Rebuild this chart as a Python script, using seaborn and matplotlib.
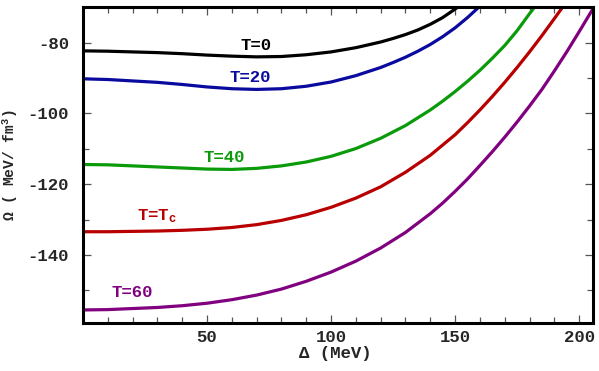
import matplotlib
matplotlib.use("Agg")
import matplotlib.pyplot as plt
import numpy as np
import pandas as pd
import seaborn as sns
from matplotlib.ticker import MultipleLocator


# curves: gap parameter (MeV) vs grand potential (MeV/fm^3)
delta_t0 = [0, 10, 20, 30, 40, 50, 60, 70, 80, 90, 100, 110, 120, 125, 130, 135, 140, 145, 150, 151]
omega_t0 = [-82.3, -82.4, -82.6, -82.8, -83.1, -83.5, -83.8, -84.0, -83.9, -83.4, -82.6, -81.4,
            -79.8, -78.8, -77.7, -76.4, -74.8, -72.9, -70.5, -70.0]

delta_t20 = [0, 10, 20, 30, 40, 50, 60, 70, 80, 90, 100, 110, 120, 125, 130, 135, 140, 145, 150, 155, 159.5]
omega_t20 = [-90.2, -90.4, -90.8, -91.2, -91.8, -92.5, -93.0, -93.2, -93.0, -92.3, -91.1, -89.3,
             -87.0, -85.6, -84.1, -82.4, -80.5, -78.3, -75.8, -72.9, -70.0]

delta_t40 = [0, 10, 20, 30, 40, 50, 60, 70, 80, 90, 100, 110, 120, 130, 140, 145, 150, 155, 160,
             165, 170, 175, 180, 182]
omega_t40 = [-114.4, -114.5, -114.8, -115.1, -115.4, -115.7, -115.8, -115.5, -114.8, -113.7, -112.1,
             -109.9, -107.0, -103.4, -99.0, -96.5, -93.8, -90.9, -87.8, -84.4, -80.8, -76.6, -71.8, -70.0]

delta_tc = [0, 10, 20, 30, 40, 50, 60, 70, 80, 90, 100, 110, 120, 130, 140, 150, 155, 160, 165,
            170, 175, 180, 185, 190, 193.3]
omega_tc = [-133.4, -133.4, -133.3, -133.2, -133.0, -132.7, -132.2, -131.4, -130.2, -128.6, -126.5,
            -123.9, -120.7, -116.6, -111.8, -106.0, -102.6, -99.0, -95.2, -91.2, -87.0, -82.6, -78.0,
            -73.2, -70.0]

delta_t60 = [0, 10, 20, 30, 40, 50, 60, 70, 80, 90, 100, 110, 120, 130, 140, 145, 150, 155, 160,
             165, 170, 175, 180, 185, 190, 195, 200, 205.5]
omega_t60 = [-155.5, -155.4, -155.1, -154.8, -154.3, -153.6, -152.6, -151.3, -149.6, -147.4, -144.8,
             -141.7, -138.0, -133.6, -128.3, -125.3, -122.0, -118.5, -114.7, -110.8, -106.7, -102.4,
             -97.9, -93.2, -88.0, -82.6, -76.9, -70.5]

series_names = ["T=0", "T=20", "T=40", "T=Tc", "T=60"]
series_colors = ["#000000", "#0a0a9e", "#0a9a0a", "#b80000", "#800080"]

label_text = ["T=0", "T=20", "T=40", "T=T$_{\\mathregular{c}}$", "T=60"]
label_x = [69.8, 67.6, 57.1, 30.0, 20.0]
label_y = [-80.9, -89.8, -112.4, -129.0, -150.7]


def build_frame():
    parts = []
    pairs = [(delta_t0, omega_t0), (delta_t20, omega_t20), (delta_t40, omega_t40),
             (delta_tc, omega_tc), (delta_t60, omega_t60)]
    for name, (dx, om) in zip(series_names, pairs):
        parts.append(pd.DataFrame({"delta": dx, "omega": om, "T": name}))
    return pd.concat(parts, ignore_index=True)


def main():
    sns.set_theme(style="ticks")
    plt.rcParams.update({
        "font.family": ["Liberation Mono", "DejaVu Sans"],
        "font.weight": "bold",
        "font.size": 12.5,
        "axes.unicode_minus": False,
        "mathtext.fontset": "custom",
        "mathtext.rm": "Liberation Mono:bold",
        "mathtext.it": "Liberation Mono:bold",
        "mathtext.bf": "Liberation Mono:bold",
    })

    df = build_frame()
    fig = plt.figure(figsize=(5.99, 3.71), dpi=100)
    ax = fig.add_axes([0.1386, 0.1302, 0.8514, 0.8501])

    sns.lineplot(data=df, x="delta", y="omega", hue="T", hue_order=series_names,
                 palette=dict(zip(series_names, series_colors)), linewidth=2.3,
                 legend=False, sort=False, ax=ax, estimator=None)

    for txt, x, y, c in zip(label_text, label_x, label_y, series_colors):
        ax.text(x, y, txt, color=c, ha="center", va="center", fontsize=12.5,
                fontweight="bold")

    ax.set_xlim(0, 205.6)
    ax.set_ylim(-159.1, -70)
    ax.xaxis.set_major_locator(MultipleLocator(50))
    ax.xaxis.set_minor_locator(MultipleLocator(10))
    ax.yaxis.set_major_locator(MultipleLocator(20))
    ax.yaxis.set_minor_locator(MultipleLocator(10))
    ax.set_xticks([50, 100, 150, 200])
    ax.tick_params(which="both", direction="in", top=True, right=True, color="#555555", width=0.9)
    ax.tick_params(which="major", length=5.5)
    ax.tick_params(which="minor", length=4)
    ax.tick_params(axis="y", pad=10, labelsize=12.5)
    ax.tick_params(axis="x", pad=5, labelsize=12.5)
    for lab in ax.get_xticklabels() + ax.get_yticklabels():
        lab.set_fontweight("bold")
    for sp in ax.spines.values():
        sp.set_linewidth(2.2)
        sp.set_color("black")

    ax.set_xlabel("Δ (MeV)", fontsize=12.5, fontweight="bold")
    ax.set_ylabel("Ω ( MeV/ fm$^{\\mathregular{3}}$)", fontsize=10.5, fontweight="bold")
    ax.xaxis.set_label_coords(0.494, -0.074)
    ax.yaxis.set_label_coords(-0.123, 0.5)

    fig.savefig("out.png", dpi=100)
    plt.close(fig)


if __name__ == "__main__":
    main()
